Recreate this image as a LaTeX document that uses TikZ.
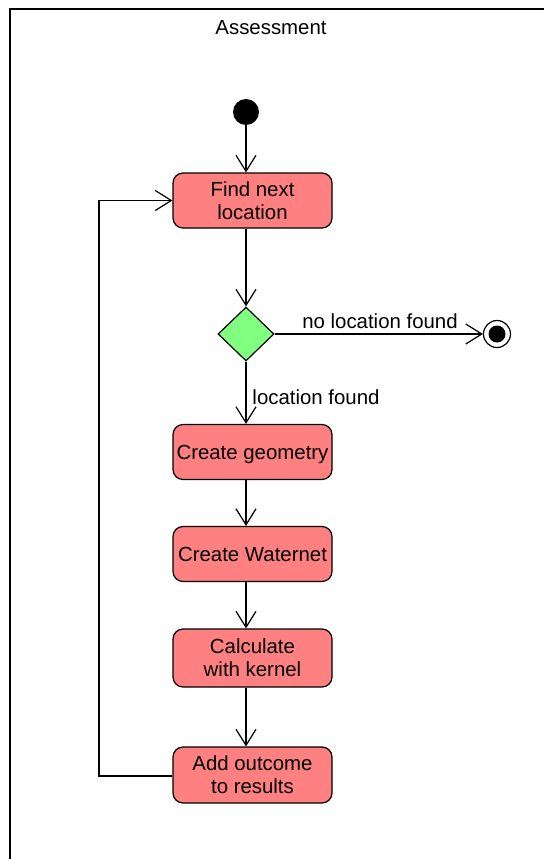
\documentclass[tikz,border=0pt]{standalone}
\usepackage{fontspec}
\setmainfont{Liberation Sans}
\usetikzlibrary{arrows.meta,shapes.geometric}
\definecolor{actred}{HTML}{FF8080}
\definecolor{decgreen}{HTML}{80FF80}
\begin{document}
\begin{tikzpicture}[x=1pt,y=-1pt,
  txt/.style={font=\fontsize{20.4}{23}\selectfont, inner sep=0pt, align=center},
  act/.style={txt, draw, line width=1.2pt, fill=actred, rounded corners=10pt,
    minimum width=159pt, minimum height=55pt},
  oneline/.style={text depth=0pt, text height=14.6pt},
  arr/.style={line width=1.2pt, -{Straight Barb[length=16pt,width=20pt,line width=1.2pt]}},
  ln/.style={line width=1.2pt}]
\useasboundingbox (0,0) rectangle (544,859);
% frame
\draw[line width=1.2pt] (10,859) -- (10,9) -- (544,9);
\node[txt] (title) at (271,28) {Assessment};
% nodes
\node[circle, fill=black, minimum size=26pt, inner sep=0pt] (start) at (246,112) {};
\node[act] (find) at (252.5,200.5) {Find next\\location};
\node[diamond, draw, line width=1.2pt, fill=decgreen, minimum width=56pt, minimum height=54pt, inner sep=0pt] (dec) at (246,334) {};
\node[circle, draw, line width=1.2pt, fill=white, minimum size=27pt, inner sep=0pt] (final) at (497,334) {};
\fill[black] (final.center) circle (8.5pt);
\node[act, oneline] (geom) at (252.5,452) {Create geometry};
\node[act, oneline] (water) at (252.5,554) {Create Waternet};
\node[act, minimum height=58pt] (calc) at (252.5,658) {Calculate\\with kernel};
\node[act, minimum height=56pt] (add) at (252.5,775) {Add outcome\\to results};
\node[txt] (lno) at (380,321) {no location found};
\node[txt] (lyes) at (316,397) {location found};
\coordinate (loopc) at (99,776);
% connectors
\draw[arr] (start) -- (start |- find.north);
\draw[arr] (start |- find.south) -- (dec.north);
\draw[arr] (dec.east) -- (final.west);
\draw[arr] (dec.south) -- (start |- geom.north);
\draw[arr] (start |- geom.south) -- (start |- water.north);
\draw[arr] (start |- water.south) -- (start |- calc.north);
\draw[arr] (start |- calc.south) -- (start |- add.north);
\draw[arr] (add.west |- loopc) -- (loopc) -- (loopc |- find.west) -- (find.west);
\end{tikzpicture}
\end{document}
